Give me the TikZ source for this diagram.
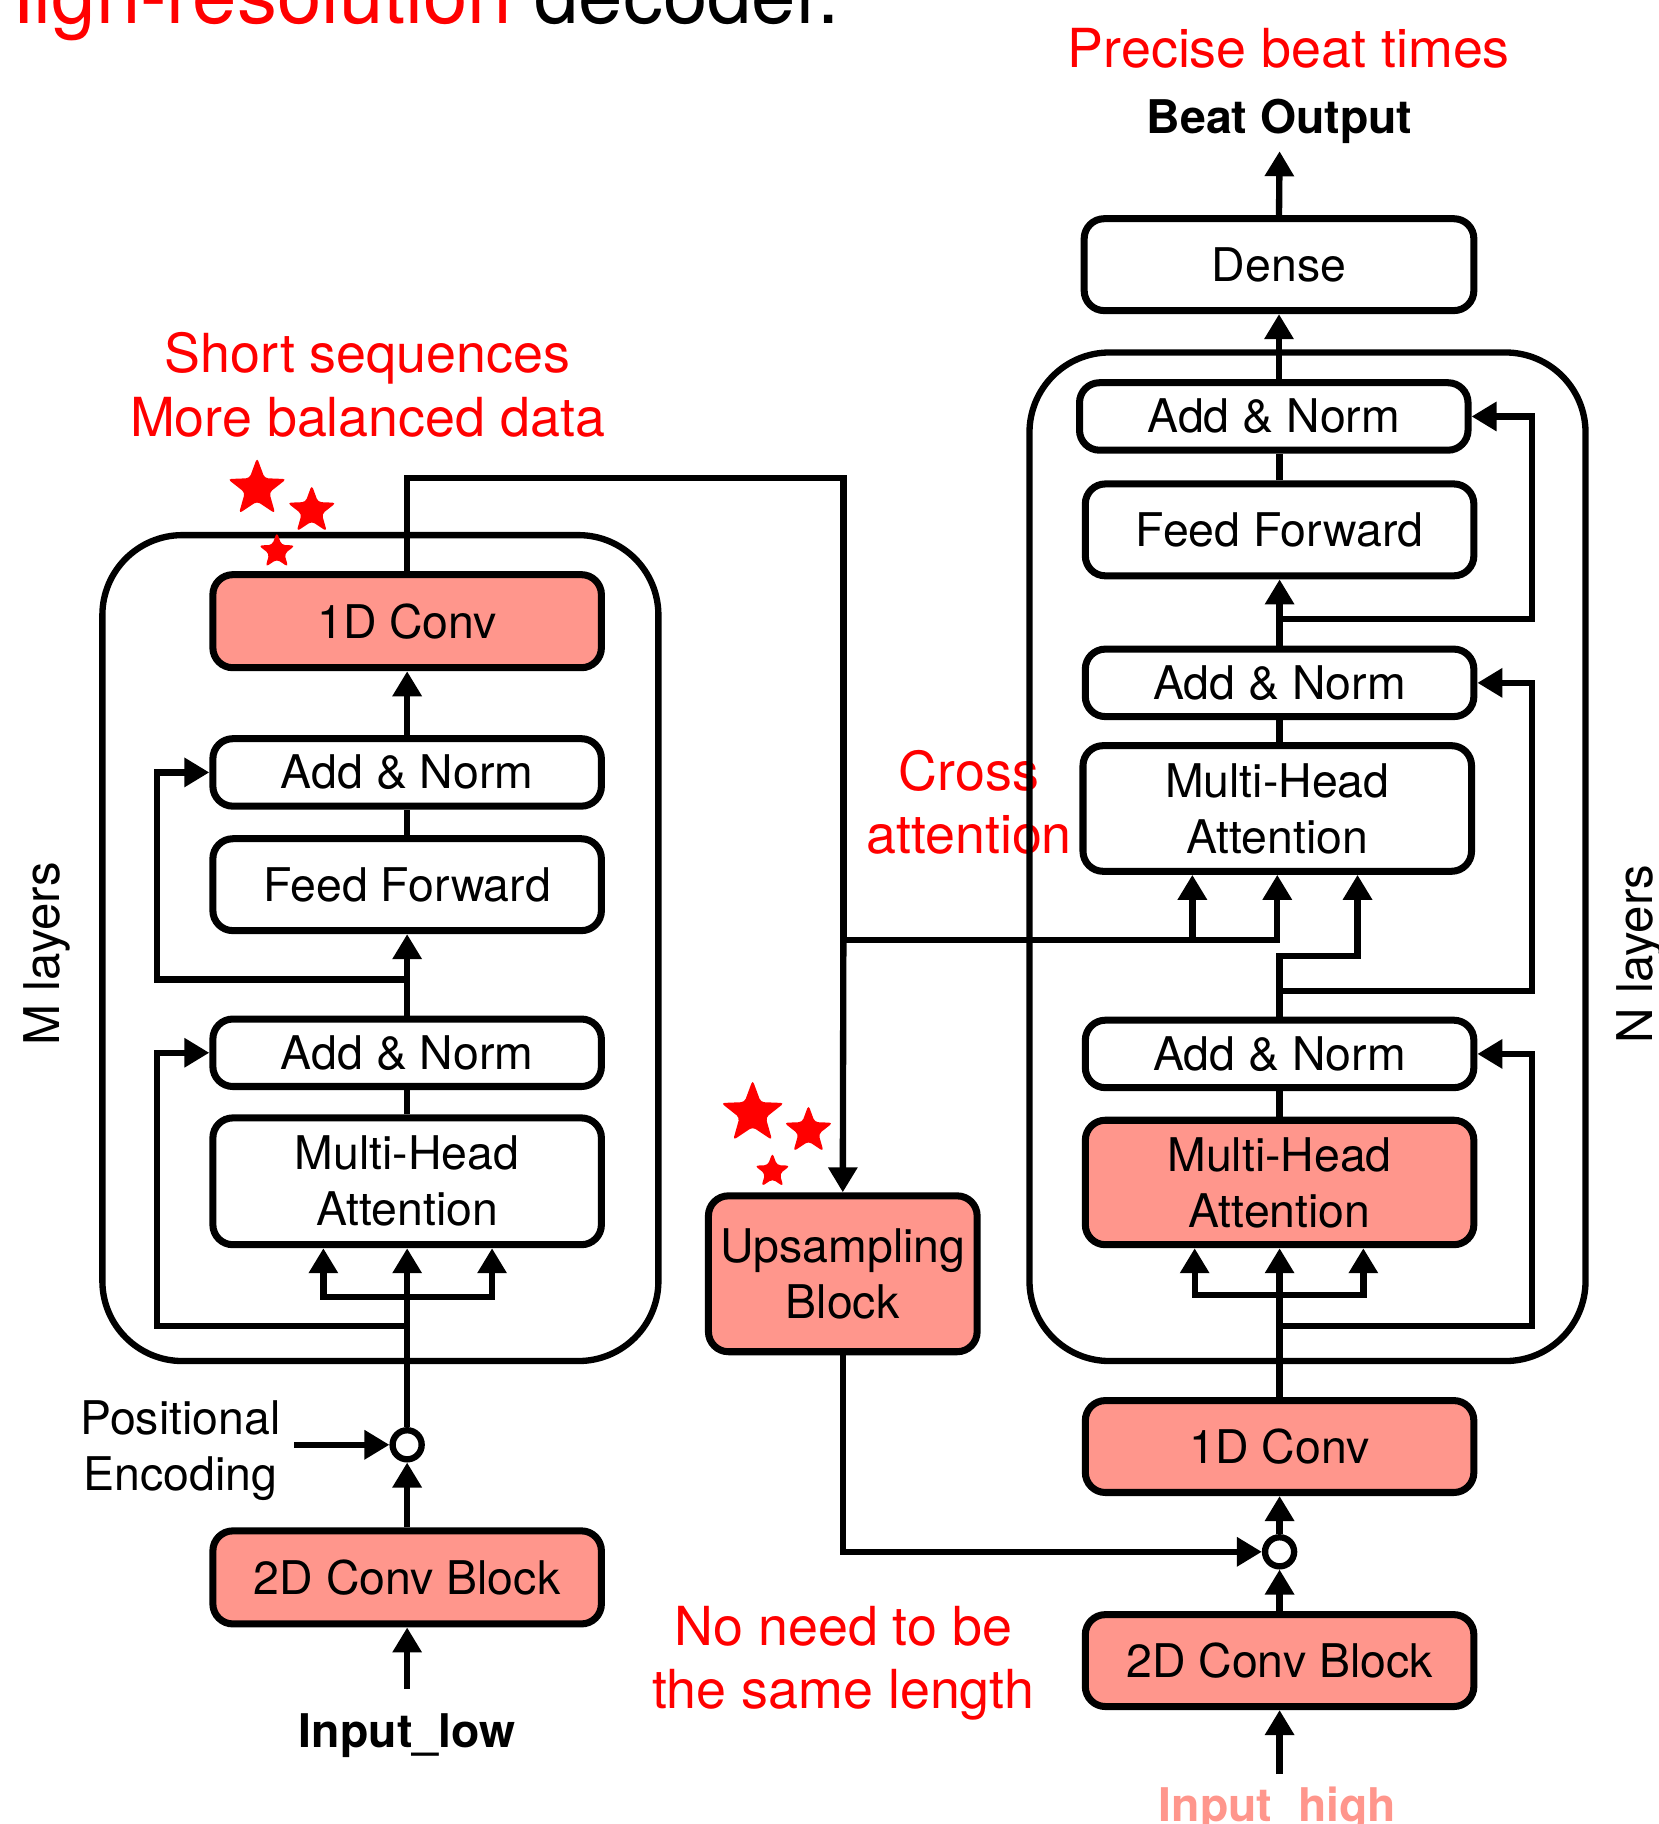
\documentclass[tikz,border=0pt]{standalone}
\usepackage{fontspec}
\setmainfont{TeX Gyre Heros}
\usetikzlibrary{arrows.meta,shapes.geometric}
\definecolor{salmon}{RGB}{255,150,140}
\newcommand\px{0.011634cm}
\newcommand\bodyfont{\fontsize{13.2}{15.9}\selectfont}
\newcommand\annfont{\fontsize{15.3}{18.1}\selectfont}
\begin{document}
\begin{tikzpicture}[x=0.011634cm, y=-0.011634cm,
  every node/.style={inner sep=0pt},
  blk/.style={draw, line width=2pt, rounded corners=0.2cm, align=center,
              minimum width={334*\px}, font=\bodyfont},
  hot/.style={blk, fill=salmon},
  sum/.style={draw, circle, line width=1.8pt, fill=white, minimum size={25*\px}},
  conn/.style={line width=1.8pt},
  arr/.style={conn, -{Triangle[length=0.25cm,width=0.28cm]}},
  stack/.style={line width=1.8pt, rounded corners=0.8cm},
  note/.style={text=red, font=\annfont, align=center, anchor=base},
  lbl/.style={font=\bodyfont, align=center, anchor=base},
  starmark/.style={star, star points=5, star point ratio=2.4, fill=red, rounded corners=1pt}
]
\useasboundingbox (0,0) rectangle (1426,1568);

% heading (multi-line nodes below are anchored at the baseline of their last line)
\node[anchor=base west, font=\fontsize{22.7}{27}\selectfont] (title) at (-21,20)
  {\textcolor{red}{High-resolution} decoder.};

% annotations
\node[note] (shortnote) at (316,375) {Short sequences\\More balanced data};
\node[note] (crossnote) at (833,734) {Cross\\attention};
\node[note] (lennote) at (725,1469) {No need to be\\the same length};
\node[note] (precnote) at (1108,58) {Precise beat times};

% layer stacks
\draw[stack] (88,460) rectangle (566,1170);
\draw[stack] (885,303) rectangle (1363,1170);
\node[font=\fontsize{14}{16}\selectfont, rotate=90] (mlay) at (40,820) {M layers};
\node[font=\fontsize{14}{16}\selectfont, rotate=90] (nlay) at (1410,820) {N layers};

% encoder column
\node[hot, minimum height={80*\px}] (lconv) at (350,534) {1D Conv};
\node[blk, minimum height={58*\px}] (lan2) at (350,664) {Add \& Norm};
\node[blk, minimum height={79*\px}] (lff) at (350,760.5) {Feed Forward};
\node[blk, minimum height={58*\px}] (lan1) at (350,905) {Add \& Norm};
\node[blk, minimum height={109*\px}] (lmha) at (350,1015.5) {Multi-Head\\Attention};
\node[hot, minimum height={80*\px}] (l2d) at (350,1356) {2D Conv Block};
\node[sum] (lcirc) at (350,1242) {};
\node[lbl] (pelabel) at (155,1281) {Positional\\Encoding};
\node[lbl, font=\bodyfont\bfseries] (inlow) at (350,1502) {Input\_low};

% upsampling block
\node[hot, minimum width={231*\px}, minimum height={134*\px}] (ups) at (724.5,1095) {Upsampling\\Block};

% decoder column
\node[blk, minimum width={335*\px}, minimum height={79*\px}] (dense) at (1099.5,227.5) {Dense};
\node[blk, minimum height={58*\px}] (ran3) at (1095,358) {Add \& Norm};
\node[blk, minimum height={79*\px}] (rff) at (1100,455.5) {Feed Forward};
\node[blk, minimum height={58*\px}] (ran2) at (1100,587) {Add \& Norm};
\node[blk, minimum height={108*\px}] (rmha2) at (1098,695) {Multi-Head\\Attention};
\node[blk, minimum height={58*\px}] (ran1) at (1100,906) {Add \& Norm};
\node[hot, minimum height={107*\px}] (rmha1) at (1100,1016.5) {Multi-Head\\Attention};
\node[hot, minimum height={79*\px}] (r1d) at (1100,1243.5) {1D Conv};
\node[sum] (rcirc) at (1100,1334) {};
\node[hot, minimum height={79*\px}] (r2d) at (1100,1427.5) {2D Conv Block};
\node[lbl, font=\bodyfont\bfseries] (beat) at (1100,115) {Beat Output};
\node[lbl, font=\bodyfont\bfseries, text=salmon] (inhigh) at (1098,1566) {Input\_high};

% stars
\node[starmark, minimum size={53*\px}] (s1) at (221,420) {};
\node[starmark, minimum size={44*\px}] (s2) at (268,439) {};
\node[starmark, minimum size={33*\px}] (s3) at (238,474) {};
\node[starmark, minimum size={57*\px}] (s4) at (647,957) {};
\node[starmark, minimum size={44*\px}] (s5) at (695,972) {};
\node[starmark, minimum size={32*\px}] (s6) at (664,1007) {};

% encoder connectors
\coordinate (pe) at (253,1242);
\coordinate (lin) at (350,1452);
\coordinate (la) at (278,1115);
\coordinate (lb) at (423,1115);
\coordinate (lm) at (350,1115);
\draw[arr] (lin) -- (l2d.south);
\draw[arr] (l2d.north) -- (lcirc.south);
\draw[arr] (pe) -- (lcirc.west);
\draw[arr] (lcirc.north) -- (lmha.south);
\draw[arr] (lm) -- (la) -- (la |- lmha.south);
\draw[arr] (lm) -- (lb) -- (lb |- lmha.south);
\draw[conn] (lmha.north) -- (lan1.south);
\draw[arr] (lan1.north) -- (lff.south);
\draw[conn] (lff.north) -- (lan2.south);
\draw[arr] (lan2.north) -- (lconv.south);
\draw[arr] (350,1140) -- (135,1140) -- (135,905) -- (lan1.west);
\draw[arr] (350,842) -- (135,842) -- (135,664) -- (lan2.west);

% encoder output to upsampling and cross attention
\coordinate (xa) at (725,808);
\coordinate (ka) at (1025,808);
\coordinate (kb) at (1098,808);
\draw[conn] (lconv.north) -- (350,411) -- (725,411) -- (xa);
\draw[arr] (xa) -- (ups.north);
\draw[arr] (xa) -- (kb) -- (kb |- rmha2.south);
\draw[arr] (ka) -- (ka |- rmha2.south);

% decoder connectors
\coordinate (rin) at (1100,1525);
\coordinate (outtip) at (1100,130);
\coordinate (ra) at (1027,1113);
\coordinate (rb) at (1172,1113);
\coordinate (rm) at (1100,1113);
\coordinate (qa) at (1100,822);
\coordinate (qb) at (1167,822);
\draw[arr] (rin) -- (r2d.south);
\draw[arr] (r2d.north) -- (rcirc.south);
\draw[arr] (ups.south) -- (ups.south |- rcirc.west) -- (rcirc.west);
\draw[arr] (rcirc.north) -- (r1d.south);
\draw[arr] (r1d.north) -- (rmha1.south);
\draw[arr] (rm) -- (ra) -- (ra |- rmha1.south);
\draw[arr] (rm) -- (rb) -- (rb |- rmha1.south);
\draw[conn] (rmha1.north) -- (ran1.south);
\draw[arr] (ran1.north) -- (qa) -- (qb) -- (qb |- rmha2.south);
\draw[conn] (rmha2.north -| ran2.south) -- (ran2.south);
\draw[arr] (ran2.north) -- (rff.south);
\draw[conn] (rff.north) -- (rff.north |- ran3.south);
\draw[arr] (ran3.north -| dense.south) -- (dense.south);
\draw[arr] (dense.north) -- (outtip);
\draw[arr] (1100,1140) -- (1317,1140) -- (1317,906) -- (ran1.east);
\draw[arr] (1100,852) -- (1317,852) -- (1317,587) -- (ran2.east);
\draw[arr] (1100,532) -- (1317,532) -- (1317,358) -- (ran3.east);
\end{tikzpicture}
\end{document}
